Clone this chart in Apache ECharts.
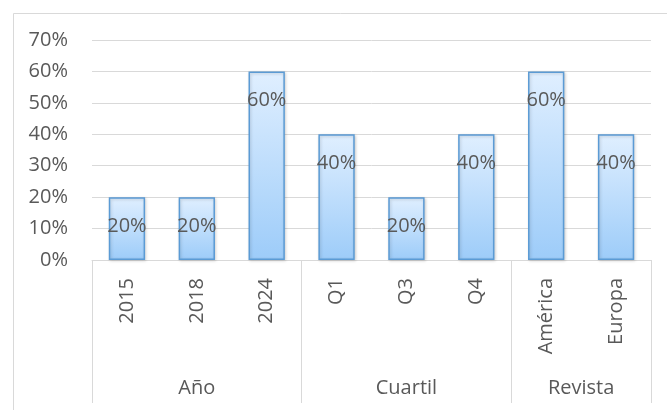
<!DOCTYPE html>
<html>
<head>
<meta charset="utf-8">
<script src="https://cdn.jsdelivr.net/npm/echarts@6/dist/echarts.min.js"></script>
<style>
  html, body { margin: 0; padding: 0; background: #ffffff; }
  #chart { width: 667px; height: 410px; }
</style>
</head>
<body>
<div id="chart"></div>
<script>
// ---- data ----
const categories = ['2015', '2018', '2024', 'Q1', 'Q3', 'Q4', 'América', 'Europa'];
const values = [0.20, 0.20, 0.60, 0.40, 0.20, 0.40, 0.60, 0.40];
const groupNames = ['Año', 'Cuartil', 'Revista'];
const groupSizes = [3, 3, 2];
const yTicks = [0, 0.1, 0.2, 0.3, 0.4, 0.5, 0.6, 0.7];

// group boundaries and centres (in category units)
const groupBounds = [0];
groupSizes.forEach(function (s, i) { groupBounds.push(groupBounds[i] + s); });
const groupCenters = groupSizes.map(function (s, i) { return groupBounds[i] + s / 2; });

const FONT = 'Open Sans';
const TXT = '#595959';
const GRID = '#d9d9d9';

const pct = function (v) { return Math.round(v * 100) + '%'; };

const chart = echarts.init(document.getElementById('chart'), null, { renderer: 'canvas' });
chart.setOption({
  animation: false,
  backgroundColor: '#ffffff',
  textStyle: { fontFamily: FONT },
  graphic: [{
    type: 'rect', left: 11, top: 11, silent: true,
    shape: { width: 700, height: 450 },
    style: { fill: 'none', stroke: GRID, lineWidth: 1 }
  }],
  grid: { left: 92, right: 16, top: 40, bottom: 150, containLabel: false },
  xAxis: [{
    type: 'category',
    data: categories,
    position: 'bottom',
    axisLine: { show: true, lineStyle: { color: GRID, width: 1 } },
    axisTick: { show: false },
    axisLabel: { rotate: 90, margin: 18, fontSize: 20, color: TXT, fontFamily: FONT }
  }, {
    type: 'value',
    min: 0,
    max: categories.length,
    position: 'bottom',
    axisLine: { show: false },
    splitLine: { show: false },
    axisTick: {
      show: true, inside: false, length: 143,
      customValues: groupBounds,
      lineStyle: { color: GRID, width: 1 }
    },
    axisLabel: {
      margin: 118, fontSize: 20, color: TXT, fontFamily: FONT,
      customValues: groupCenters,
      formatter: function (v) {
        const i = groupCenters.indexOf(v);
        return i >= 0 ? groupNames[i] : '';
      }
    }
  }],
  yAxis: {
    type: 'value',
    min: yTicks[0],
    max: yTicks[yTicks.length - 1],
    interval: 0.1,
    axisLine: { show: false },
    axisTick: { show: false },
    splitLine: { show: true, lineStyle: { color: GRID, width: 1 } },
    axisLabel: { formatter: pct, margin: 24, fontSize: 20, color: TXT, fontFamily: FONT }
  },
  series: [{
    type: 'bar',
    xAxisIndex: 0,
    data: values,
    barWidth: '52%',
    itemStyle: {
      color: new echarts.graphic.LinearGradient(0, 0, 0, 1, [
        { offset: 0, color: '#e0efff' },
        { offset: 1, color: '#9dccf9' }
      ]),
      borderColor: '#5b9bd5',
      borderWidth: 1.5,
      shadowColor: 'rgba(0,0,0,0.18)',
      shadowBlur: 3,
      shadowOffsetX: 1,
      shadowOffsetY: 1
    },
    label: {
      show: true,
      position: 'insideTop',
      distance: 19,
      formatter: function (p) { return pct(p.value); },
      fontSize: 20,
      color: TXT,
      fontFamily: FONT
    }
  }]
});
</script>
</body>
</html>
